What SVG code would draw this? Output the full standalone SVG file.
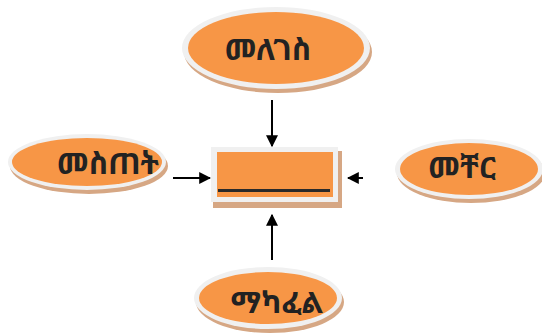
<svg xmlns="http://www.w3.org/2000/svg" width="542" height="333" viewBox="0 0 542 333">
<defs>
<style>
.sh{fill:#d6a784}
.ring{fill:#f0f0f0}
.or{fill:#f79646}
.t{font-family:"Noto Sans Ethiopic","Abyssinica SIL","DejaVu Sans","Noto Sans",sans-serif;font-weight:bold;font-size:30px;fill:#222;text-anchor:middle}
.c{stroke:#000;stroke-width:2;fill:none;marker-end:url(#ah)}
</style>
<marker id="ah" viewBox="0 0 10 10" refX="9" refY="5" markerWidth="6" markerHeight="6" orient="auto" markerUnits="strokeWidth">
<path d="M0,0 L10,5 L0,10 z" fill="#000"/>
</marker>
</defs>
<rect width="542" height="333" fill="#fff"/>
<g id="top">
<ellipse class="sh" cx="278" cy="52" rx="94" ry="41"/>
<ellipse class="ring" cx="276" cy="48" rx="94" ry="41"/>
<ellipse class="or" cx="276" cy="48" rx="88" ry="36"/>
<text class="t" x="268" y="60">መለገስ</text>
</g>
<g id="left">
<ellipse class="sh" cx="89" cy="166" rx="79" ry="28"/>
<ellipse class="ring" cx="87" cy="162" rx="79" ry="28"/>
<ellipse class="or" cx="87" cy="162" rx="75" ry="24"/>
<text class="t" x="108" y="174">መስጠት</text>
</g>
<g id="right">
<ellipse class="sh" cx="471" cy="173" rx="74" ry="30"/>
<ellipse class="ring" cx="469" cy="169" rx="74" ry="30"/>
<ellipse class="or" cx="469" cy="169" rx="69" ry="26"/>
<text class="t" x="462" y="178">መቸር</text>
</g>
<g id="bottom">
<ellipse class="sh" cx="270" cy="302" rx="74" ry="31"/>
<ellipse class="ring" cx="268" cy="298" rx="74" ry="31"/>
<ellipse class="or" cx="268" cy="298" rx="69" ry="26"/>
<text class="t" x="277" y="313">ማካፈል</text>
</g>
<g id="center">
<rect class="sh" x="213" y="151" width="129" height="57"/>
<rect class="ring" x="211" y="147" width="127" height="55"/>
<rect class="or" x="217" y="152" width="116" height="45"/>
<line x1="218" y1="190.5" x2="330" y2="190.5" stroke="#2a2a2a" stroke-width="3"/>
</g>
<g id="connectors">
<line class="c" x1="272" y1="100" x2="272" y2="146"/>
<line class="c" x1="173" y1="178" x2="210" y2="178"/>
<line class="c" x1="363" y1="178" x2="348" y2="178"/>
<line class="c" x1="272" y1="260" x2="272" y2="215"/>
</g>
</svg>
